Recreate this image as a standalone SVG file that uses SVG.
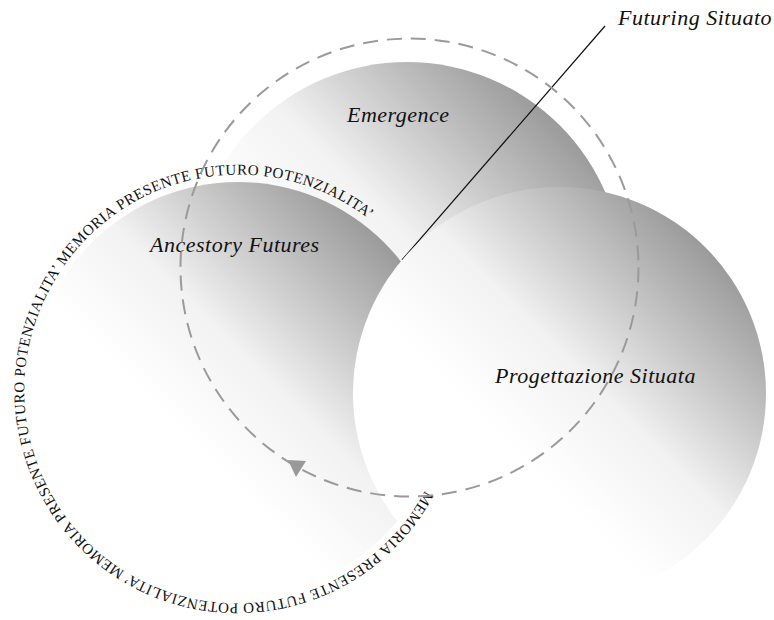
<svg xmlns="http://www.w3.org/2000/svg" width="774" height="620" viewBox="0 0 774 620">
<style>
.lbl{font-family:"Liberation Serif","Times New Roman",serif;font-style:italic;font-size:22px;letter-spacing:0.5px;fill:#111}
.ring{font-family:"Liberation Serif","Times New Roman",serif;font-size:15px;letter-spacing:0.5px;fill:#111}
.sphere{stroke:none;fill:url(#g)}
.loop{fill:none;stroke:#9a9a9a;stroke-width:2;stroke-dasharray:15 9}
.lead{stroke:#111;stroke-width:1.2;fill:none}
</style>
<defs>
<linearGradient id="g" x1="1" y1="0" x2="0" y2="1">
<stop offset="0.12" stop-color="#939393"/>
<stop offset="0.45" stop-color="#f2f2f2"/>
<stop offset="0.62" stop-color="#ffffff"/>
</linearGradient>
<path id="ringPath" d="M425.2,490.6 A213,213 0 1,1 50.8,287.4 A213,213 0 1,1 425.2,490.6"/>
</defs>
<rect width="774" height="620" fill="#fff"/>
<g id="emergence">
<circle class="sphere" cx="407" cy="278" r="216"/>
<text class="lbl" x="347" y="122">Emergence</text>
</g>
<g id="ancestory-futures">
<circle class="sphere" cx="238" cy="389" r="207"/>
<text class="lbl" x="150" y="252">Ancestory Futures</text>
</g>
<g id="connectors">
<line class="lead" x1="605" y1="26" x2="402" y2="260"/>
</g>
<g id="progettazione-situata">
<circle class="sphere" cx="559.5" cy="393.5" r="206.5"/>
<text class="lbl" x="495" y="383">Progettazione Situata</text>
</g>
<g id="ring-text">
<text class="ring"><textPath href="#ringPath">MEMORIA PRESENTE FUTURO POTENZIALITA’ MEMORIA PRESENTE FUTURO POTENZIALITA’ MEMORIA PRESENTE FUTURO POTENZIALITA’</textPath></text>
</g>
<g id="cycle">
<circle class="loop" cx="409.5" cy="267.5" r="229"/>
<polygon points="288,460 306,461 296,477" fill="#999"/>
</g>
<g id="futuring-situato">
<text class="lbl" x="618" y="25">Futuring Situato</text>
</g>
</svg>
